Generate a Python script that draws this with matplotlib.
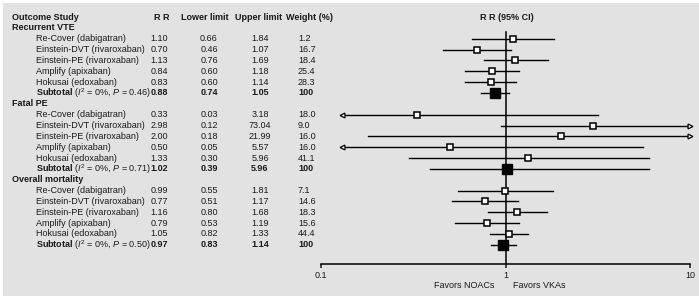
import matplotlib
matplotlib.use('Agg')
import matplotlib.pyplot as plt
import matplotlib.transforms as mtransforms

plt.rcParams['font.family'] = ['Liberation Sans', 'DejaVu Sans']
plt.rcParams['mathtext.fontset'] = 'custom'
plt.rcParams['mathtext.rm'] = 'Liberation Sans'
plt.rcParams['mathtext.it'] = 'Liberation Sans:italic'
plt.rcParams['mathtext.bf'] = 'Liberation Sans:bold'

# data
groups = ['Recurrent VTE', 'Fatal PE', 'Overall mortality']
studies = ['Re-Cover (dabigatran)', 'Einstein-DVT (rivaroxaban)', 'Einstein-PE (rivaroxaban)',
           'Amplify (apixaban)', 'Hokusai (edoxaban)']
# last entry of each list is the subtotal
rr = [[1.10, 0.70, 1.13, 0.84, 0.83, 0.88],
      [0.33, 2.98, 2.00, 0.50, 1.33, 1.02],
      [0.99, 0.77, 1.16, 0.79, 1.05, 0.97]]
lower = [[0.66, 0.46, 0.76, 0.60, 0.60, 0.74],
         [0.03, 0.12, 0.18, 0.05, 0.30, 0.39],
         [0.55, 0.51, 0.80, 0.53, 0.82, 0.83]]
upper = [[1.84, 1.07, 1.69, 1.18, 1.14, 1.05],
         [3.18, 73.04, 21.99, 5.57, 5.96, 5.96],
         [1.81, 1.17, 1.68, 1.19, 1.33, 1.14]]
weight = [['1.2', '16.7', '18.4', '25.4', '28.3', '100'],
          ['18.0', '9.0', '16.0', '16.0', '41.1', '100'],
          ['7.1', '14.6', '18.3', '15.6', '44.4', '100']]
het_p = ['0.46', '0.71', '0.50']
# in the original figure the Einstein-DVT fatal PE line is drawn from ~0.94, not 0.12
drawn_lower = {(1, 1): 0.94}
x_ticks = [0.1, 1, 10]
tick_labels = ['0.1', '1', '10']

# display limits for CI lines (arrows beyond)
clip_lo, clip_hi = 0.13, 10

W, H = 699, 296
fig = plt.figure(figsize=(W / 100, H / 100), dpi=100, facecolor='white')
fig.patches.append(plt.Rectangle((3 / W, 0), 1, 1 - 3 / H, transform=fig.transFigure,
                                 facecolor='#e2e2e2', edgecolor='none', zorder=-10))

txt = '#1a1a1a'
fs = 6.5
row_h = 10.85
y0 = 17
axis_px = 264

ax = fig.add_axes([321 / W, 1 - axis_px / H, (690 - 321) / W, axis_px / H])
ax.set_facecolor('none')
ax.set_xscale('log')
ax.set_xlim(0.1, 10)
ax.set_ylim((axis_px - y0) / row_h, -y0 / row_h)
for s in ['top', 'left', 'right']:
    ax.spines[s].set_visible(False)
ax.spines['bottom'].set_linewidth(1.1)
ax.set_yticks([])
ax.set_xticks(x_ticks)
ax.set_xticklabels(tick_labels)
ax.xaxis.set_minor_locator(matplotlib.ticker.NullLocator())
ax.tick_params(axis='x', length=3, width=1.1, labelsize=fs, pad=2, colors=txt)

tr = mtransforms.blended_transform_factory(fig.transFigure, ax.transData)

def put(xpx, y, s, ha='left', bold=False):
    ax.text(xpx / W, y, s, transform=tr, ha=ha, va='center', fontsize=fs, color=txt,
            fontweight='bold' if bold else 'normal')

# header
put(12, 0, 'Outcome Study', bold=True)
put(162, 0, 'R R', ha='center', bold=True)
put(205, 0, 'Lower limit', ha='center', bold=True)
put(259, 0, 'Upper limit', ha='center', bold=True)
put(286, 0, 'Weight (%)', bold=True)
put(507, 0, 'R R (95% CI)', ha='center', bold=True)

for g, name in enumerate(groups):
    base = 1 + 7 * g
    put(12, base, name, bold=True)
    for i in range(6):
        y = base + 1 + i
        sub = i == 5
        label = studies[i] if not sub else r'$\mathbf{Subtotal}$ ($I^2$ = 0%, $P$ = ' + het_p[g] + ')'
        put(36, y, label)
        put(159, y, '%.2f' % rr[g][i], ha='center', bold=sub)
        put(209, y, '%.2f' % lower[g][i], ha='center', bold=sub)
        put(260, y, '%.2f' % upper[g][i], ha='center', bold=sub)
        put(298, y, weight[g][i], bold=sub)

        lo_val = drawn_lower.get((g, i), lower[g][i])
        lo = max(lo_val, clip_lo)
        hi = min(upper[g][i], clip_hi)
        ax.plot([lo, hi], [y, y], color='black', lw=1.0, zorder=2, clip_on=False)
        if lo_val < clip_lo:
            ax.plot(lo, y, marker='<', ms=3.5, mfc='white', mec='black', mew=0.9, zorder=3, clip_on=False)
        if upper[g][i] > clip_hi:
            ax.plot(hi, y, marker='>', ms=3.5, mfc='white', mec='black', mew=0.9, zorder=3, clip_on=False)
        if sub:
            ax.plot(rr[g][i], y, marker='s', ms=7.5, mfc='black', mec='black', zorder=4)
        else:
            ax.plot(rr[g][i], y, marker='s', ms=5, mfc='white', mec='black', mew=1.1, zorder=4)

ax.plot([1, 1], [(32 - y0) / row_h, (axis_px - y0) / row_h], color='black', lw=1.1, zorder=1)

fig.text(464 / W, 1 - 286 / H, 'Favors NOACs', ha='center', va='center', fontsize=fs, color=txt)
fig.text(539 / W, 1 - 286 / H, 'Favors VKAs', ha='center', va='center', fontsize=fs, color=txt)

fig.savefig('out.png', dpi=100, facecolor=fig.get_facecolor())
